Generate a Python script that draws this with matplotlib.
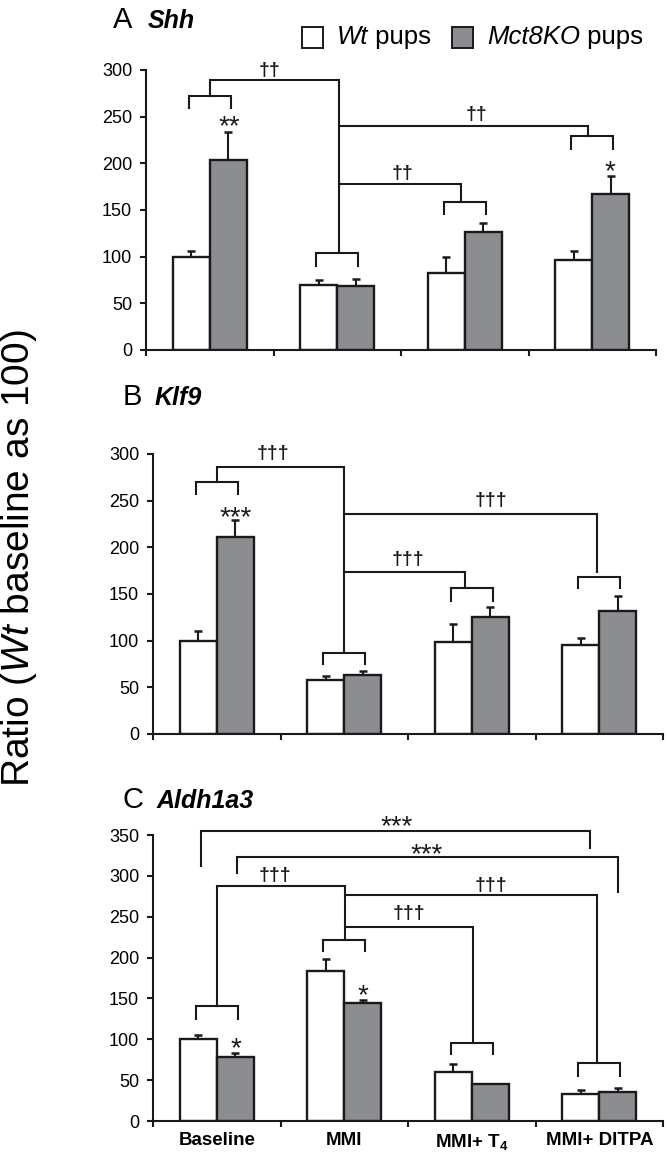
import matplotlib
matplotlib.use("Agg")
import matplotlib.pyplot as plt
from matplotlib.patches import Rectangle
from matplotlib.transforms import ScaledTranslation

plt.rcParams["font.family"] = ["Liberation Sans", "DejaVu Sans"]
plt.rcParams["mathtext.fontset"] = "custom"
plt.rcParams["mathtext.rm"] = "Liberation Sans"
plt.rcParams["mathtext.it"] = "Liberation Sans:italic"
plt.rcParams["mathtext.bf"] = "Liberation Sans:bold"

W, H = 666, 1156
DPI = 100

groups = ["Baseline", "MMI", "MMI+ $\\mathbf{T_4}$", "MMI+ DITPA"]

# Shh
shh_wt = [100, 70, 83, 96]
shh_wt_err = [6, 5, 17, 10]
shh_ko = [204, 69, 126, 167]
shh_ko_err = [30, 7, 10, 19]

# Klf9
klf9_wt = [100, 58, 99, 95]
klf9_wt_err = [10, 4, 19, 8]
klf9_ko = [211, 63, 125, 132]
klf9_ko_err = [18, 4, 11, 16]

# Aldh1a3
aldh_wt = [100, 183, 60, 33]
aldh_wt_err = [5, 15, 10, 5]
aldh_ko = [78, 144, 45, 35]
aldh_ko_err = [5, 4, 0, 5]

GRAY = "#8c8d90"
INK = "#1a1a1a"
BW = 0.29
LW = 1.5


def px_axes(fig, left, right, y0, ytop):
    # axes rectangle from pixel coords of the reference
    return fig.add_axes([left / W, 1 - y0 / H, (right - left) / W, (y0 - ytop) / H])


def bars(ax, wt, wt_err, ko, ko_err, ymax):
    x = range(len(wt))
    xw = [i - BW / 2 for i in x]
    xk = [i + BW / 2 for i in x]
    for xs, ys, es in ((xw, wt, wt_err), (xk, ko, ko_err)):
        ax.errorbar(xs, ys, yerr=[[0] * len(ys), es], fmt="none", ecolor=INK,
                    elinewidth=LW, capsize=3, capthick=LW + 0.3, zorder=1)
    ax.bar(xw, wt, BW, color="white", edgecolor=INK, linewidth=1.7, zorder=2)
    ax.bar(xk, ko, BW, color=GRAY, edgecolor=INK, linewidth=1.7, zorder=2)

    ax.set_xlim(-0.5, 3.5)
    ax.set_ylim(0, ymax)
    ax.set_yticks(range(0, ymax + 1, 50))
    ax.set_xticks([-0.5, 0.5, 1.5, 2.5, 3.5])
    ax.set_xticklabels([])
    for s in ("top", "right"):
        ax.spines[s].set_visible(False)
    for s in ("left", "bottom"):
        ax.spines[s].set_linewidth(1.5)
        ax.spines[s].set_color(INK)
    ax.tick_params(axis="both", direction="out", length=4, width=1.5,
                   color=INK, labelsize=13, pad=6)


def pair(ax, g, y, drop, half=0.165):
    ax.plot([g - half, g - half, g + half, g + half], [y - drop, y, y, y - drop],
            color=INK, lw=LW, clip_on=False, solid_joinstyle="miter")


def line(ax, xs, ys):
    ax.plot(xs, ys, color=INK, lw=LW, clip_on=False, solid_joinstyle="miter")


def mark(ax, x, y, s):
    # y is where the ink of the symbol is centred
    if "†" in s:
        size, lift, weight = 14, 0.30, "bold"
    else:
        size, lift, weight = 20, 0.58, "normal"
    tr = ax.transData + ScaledTranslation(0, -lift * size / 72, ax.figure.dpi_scale_trans)
    ax.text(x, y, s, ha="center", va="baseline", fontsize=size, color=INK,
            fontweight=weight, transform=tr, clip_on=False)


def title(fig, letter, gene, ypx, xpx, gx):
    fig.text(xpx / W, 1 - ypx / H, letter, fontsize=21, ha="left", va="baseline")
    fig.text(gx / W, 1 - ypx / H, gene, fontsize=18, ha="left",
             va="baseline", fontweight="bold", style="italic")


fig = plt.figure(figsize=(W / DPI, H / DPI), dpi=DPI)

# ---- A: Shh
axA = px_axes(fig, 146, 656, 350, 70)
bars(axA, shh_wt, shh_wt_err, shh_ko, shh_ko_err, 300)
pair(axA, 0, 272, 13)
pair(axA, 1, 104, 13.5)
pair(axA, 2, 159, 13.5)
pair(axA, 3, 229, 14)
line(axA, [0, 0, 1.01, 1.01], [272, 289, 289, 104])
line(axA, [1.01, 2.97, 2.97], [240, 240, 229])
line(axA, [1.01, 1.97, 1.97], [178, 178, 159])
mark(axA, 0.47, 300.5, "††")
mark(axA, 2.09, 254, "††")
mark(axA, 1.51, 191, "††")
mark(axA, 0.15, 248.5, "**")
mark(axA, 3.14, 200, "*")
title(fig, "A", "Shh", 28, 113, 148)

# ---- B: Klf9
axB = px_axes(fig, 153, 663, 734, 454)
bars(axB, klf9_wt, klf9_wt_err, klf9_ko, klf9_ko_err, 300)
pair(axB, 0, 270, 13)
pair(axB, 1, 87, 12)
pair(axB, 2, 156, 13)
pair(axB, 3, 168.6, 12.6)
line(axB, [0, 0, 1.0, 1.0], [270, 285.7, 285.7, 87])
line(axB, [1.0, 2.98, 2.98], [236, 236, 174])
line(axB, [1.0, 1.95, 1.95], [174, 174, 156])
mark(axB, 0.44, 302, "†††")
mark(axB, 2.15, 252, "†††")
mark(axB, 1.5, 188, "†††")
mark(axB, 0.15, 241, "***")
title(fig, "B", "Klf9", 405, 123, 155)

# ---- C: Aldh1a3
axC = px_axes(fig, 153, 663, 1121, 835)
bars(axC, aldh_wt, aldh_wt_err, aldh_ko, aldh_ko_err, 350)
pair(axC, 0, 140.4, 15.4)
pair(axC, 1, 221.8, 14.2)
pair(axC, 2, 95.6, 14.2)
pair(axC, 3, 70.4, 15.4)
line(axC, [0, 0, 1.006, 1.006], [140.4, 287.7, 287.7, 221.8])
line(axC, [1.006, 2.98, 2.98], [276, 276, 70.4])
line(axC, [1.006, 2.01, 2.01], [236.9, 236.9, 95.6])
line(axC, [-0.12, -0.12, 2.93, 2.93], [312, 355, 355, 333.7])
line(axC, [0.16, 0.16, 3.15, 3.15], [303, 323.5, 323.5, 280.8])
mark(axC, 0.46, 302, "†††")
mark(axC, 2.15, 290, "†††")
mark(axC, 1.51, 255.6, "†††")
mark(axC, 1.41, 371, "***")
mark(axC, 1.65, 336.5, "***")
mark(axC, 0.15, 99, "*")
mark(axC, 1.15, 164, "*")
axC.set_xticks([0, 1, 2, 3], minor=True)
axC.set_xticklabels(groups, minor=True, fontweight="bold", fontsize=13.5)
axC.tick_params(axis="x", which="minor", length=0, pad=8)
title(fig, "C", "Aldh1a3", 808, 123, 157)

# ---- legend: italic genotype followed by upright " pups"
renderer = fig.canvas.get_renderer()
for x0, fc, lab in [(302, "white", "Wt"), (452, GRAY, "Mct8KO")]:
    fig.add_artist(Rectangle((x0 / W, 1 - 48 / H), 21 / W, 21 / H,
                             transform=fig.transFigure, facecolor=fc,
                             edgecolor=INK, linewidth=1.4))
    t = fig.text((x0 + 35) / W, 1 - 44 / H, lab, fontsize=18.5, style="italic",
                 ha="left", va="baseline")
    bb = t.get_window_extent(renderer)
    fig.text(bb.x1 / W, 1 - 44 / H, " pups", fontsize=18.5,
             ha="left", va="baseline")

fig.text(19 / W, 1 - 558 / H, "Ratio ($\\mathit{Wt}$ baseline as 100)",
         rotation=90, fontsize=28, ha="center", va="center")

fig.savefig("out.png", dpi=DPI)
